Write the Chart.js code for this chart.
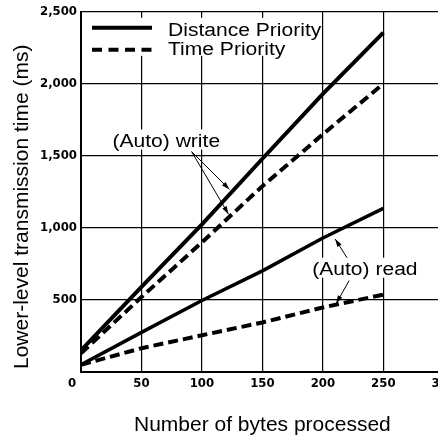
<!DOCTYPE html>
<html>
<head>
<meta charset="utf-8">
<script src="https://cdn.jsdelivr.net/npm/chart.js@4.4.0/dist/chart.umd.min.js"></script>
<style>
  html, body { margin: 0; padding: 0; background: #fff; overflow: hidden; }
  #transChart { display: block; }
</style>
</head>
<body>
<canvas id="transChart" width="460" height="440"></canvas>
<script>
// ---- values ----
const bytesProcessed = [0, 50, 100, 150, 200, 250];
const distanceWrite = [150, 590, 1025, 1480, 1930, 2355];
const timeWrite = [130, 520, 900, 1290, 1650, 2000];
const distanceRead = [50, 275, 496, 702, 930, 1136];
const timeRead = [50, 165, 255, 344, 448, 537];

const xTickValues = [0, 50, 100, 150, 200, 250, 300];
const yTickValues = [0, 500, 1000, 1500, 2000, 2500];
const seriesNames = ['Distance Priority', 'Time Priority'];
const yTitle = 'Lower-level transmission time (ms)';
const xTitle = 'Number of bytes processed';

document.addEventListener('DOMContentLoaded', function() {

    const textFont = "'Liberation Sans', Arial, sans-serif";
    const tickFont = { family: "'DejaVu Sans Condensed', 'DejaVu Sans', sans-serif", size: 13, weight: 'bold' };
    const dash = [10, 5];

    function toPoints(values) {
        return bytesProcessed.map((b, i) => ({ x: b, y: values[i] }));
    }

    function lineSet(label, values, dashed, width) {
        return {
            label: label,
            data: toPoints(values),
            borderColor: '#000',
            borderWidth: width,
            borderDash: dashed ? dash : [],
            pointRadius: 0,
            tension: 0,
            fill: false
        };
    }

    // text callouts, positioned in data units (bytes, ms)
    const callouts = [
        { text: '(Auto) write', x: 26, y: 1565, arrows: [[91.5, 1529, 122.8, 1267], [91.5, 1529, 122, 1095]] },
        { text: '(Auto) read', x: 191.2, y: 675, arrows: [[220, 792, 210.2, 923], [221.7, 634, 211, 475]] }
    ];

    // stretched text, the scanned original is wider than a normal Arial
    function wideText(ctx, txt, x, y, size) {
        ctx.save();
        ctx.font = size + 'px ' + textFont;
        ctx.translate(x, y);
        ctx.scale(1.17, 1);
        ctx.fillStyle = '#000';
        ctx.textAlign = 'left';
        ctx.textBaseline = 'alphabetic';
        ctx.fillText(txt, 0, 0);
        ctx.restore();
    }

    function textBox(ctx, txt, x, y, size, padX, top, bottom) {
        ctx.save();
        ctx.font = size + 'px ' + textFont;
        const w = ctx.measureText(txt).width * 1.17;
        ctx.fillStyle = '#fff';
        ctx.fillRect(x - padX, y - top, w + padX * 2, top + bottom);
        ctx.restore();
    }

    function arrow(ctx, x1, y1, x2, y2) {
        const a = Math.atan2(y2 - y1, x2 - x1);
        ctx.beginPath();
        ctx.moveTo(x1, y1);
        ctx.lineTo(x2, y2);
        ctx.stroke();
        ctx.beginPath();
        ctx.moveTo(x2, y2);
        ctx.lineTo(x2 - 8 * Math.cos(a) + 2.5 * Math.sin(a), y2 - 8 * Math.sin(a) - 2.5 * Math.cos(a));
        ctx.lineTo(x2 - 8 * Math.cos(a) - 2.5 * Math.sin(a), y2 - 8 * Math.sin(a) + 2.5 * Math.cos(a));
        ctx.closePath();
        ctx.fill();
    }

    const overlayPlugin = {
        id: 'overlay',
        beforeDatasetsDraw(chart) {
            const ctx = chart.ctx;
            const xs = chart.scales.x, ys = chart.scales.y;
            const area = chart.chartArea;
            // white boxes behind the text hide the grid
            ctx.save();
            ctx.fillStyle = '#fff';
            ctx.fillRect(area.left + 4, area.top + 6, 236, 38);
            ctx.restore();
            callouts.forEach(c => {
                textBox(ctx, c.text, xs.getPixelForValue(c.x), ys.getPixelForValue(c.y), 18, 3, 17, 3);
            });
        },
        afterDraw(chart) {
            const ctx = chart.ctx;
            const xs = chart.scales.x, ys = chart.scales.y;
            const area = chart.chartArea;

            // legend
            ctx.save();
            ctx.strokeStyle = '#000';
            ctx.lineWidth = 4;
            ctx.beginPath();
            ctx.moveTo(area.left + 11, area.top + 16);
            ctx.lineTo(area.left + 71, area.top + 16);
            ctx.stroke();
            ctx.setLineDash([10, 6.5]);
            ctx.beginPath();
            ctx.moveTo(area.left + 11, area.top + 38);
            ctx.lineTo(area.left + 71, area.top + 38);
            ctx.stroke();
            ctx.restore();
            wideText(ctx, seriesNames[0], area.left + 87, area.top + 24, 18);
            wideText(ctx, seriesNames[1], area.left + 87, area.top + 43, 18);

            // callouts with arrows
            ctx.save();
            ctx.strokeStyle = '#000';
            ctx.fillStyle = '#000';
            ctx.lineWidth = 1;
            callouts.forEach(c => {
                wideText(ctx, c.text, xs.getPixelForValue(c.x), ys.getPixelForValue(c.y), 18);
                c.arrows.forEach(a => {
                    arrow(ctx, xs.getPixelForValue(a[0]), ys.getPixelForValue(a[1]),
                               xs.getPixelForValue(a[2]), ys.getPixelForValue(a[3]));
                });
            });
            // the shared "0" sits in the corner below the axes
            ctx.font = 'bold 13px ' + tickFont.family;
            ctx.textAlign = 'center';
            ctx.textBaseline = 'middle';
            ctx.fillText('0', area.left - 9, area.bottom + 12);

            // y axis title, starts level with the x axis and runs upward
            ctx.translate(22, area.bottom - 3);
            ctx.rotate(-Math.PI / 2);
            ctx.font = '21px ' + textFont;
            ctx.textAlign = 'left';
            ctx.fillText(yTitle, 0, 0);
            ctx.restore();
        }
    };

    const ctx = document.getElementById('transChart').getContext('2d');
    new Chart(ctx, {
        type: 'line',
        data: {
            datasets: [
                lineSet(seriesNames[0] + ' (Auto) write', distanceWrite, false, 4),
                lineSet(seriesNames[1] + ' (Auto) write', timeWrite, true, 4),
                lineSet(seriesNames[0] + ' (Auto) read', distanceRead, false, 3.5),
                lineSet(seriesNames[1] + ' (Auto) read', timeRead, true, 4)
            ]
        },
        options: {
            responsive: false,
            animation: false,
            devicePixelRatio: 1,
            layout: { padding: { top: 9, right: 15, left: 0, bottom: 0 } },
            plugins: {
                legend: { display: false },
                tooltip: { enabled: false }
            },
            scales: {
                x: {
                    type: 'linear',
                    min: 0,
                    max: 300,
                    afterBuildTicks: axis => { axis.ticks = xTickValues.map(v => ({ value: v })); },
                    afterFit: axis => { axis.height = 68; },
                    ticks: {
                        color: '#000',
                        font: tickFont,
                        padding: 4,
                        maxRotation: 0,
                        callback: v => (v === 0 ? '' : String(v))
                    },
                    grid: { color: '#000', lineWidth: 1.2, drawTicks: false },
                    border: { color: '#000', width: 2 },
                    title: {
                        display: true,
                        text: xTitle,
                        color: '#000',
                        font: { family: textFont, size: 21 },
                        padding: { top: 0, bottom: 2 }
                    }
                },
                y: {
                    min: 0,
                    max: 2500,
                    afterBuildTicks: axis => { axis.ticks = yTickValues.map(v => ({ value: v })); },
                    afterFit: axis => { axis.width = 81; },
                    ticks: {
                        color: '#000',
                        font: tickFont,
                        padding: 4,
                        callback: v => (v === 0 ? '' : v.toLocaleString('en-US'))
                    },
                    grid: { color: '#000', lineWidth: 1.2, drawTicks: false },
                    border: { color: '#000', width: 2 }
                }
            }
        },
        plugins: [overlayPlugin]
    });
});
</script>
</body>
</html>
